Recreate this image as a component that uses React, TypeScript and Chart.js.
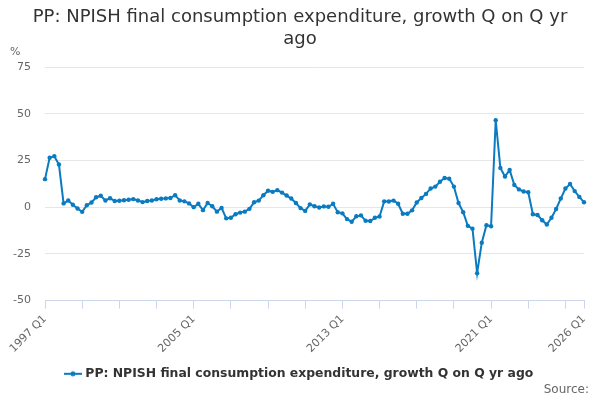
import React, { useEffect, useRef } from "react";
import { Chart, registerables } from "chart.js";

Chart.register(...registerables);

const TITLE_LINES = ["PP: NPISH final consumption expenditure, growth Q on Q yr", "ago"];
const SERIES_NAME = "PP: NPISH final consumption expenditure, growth Q on Q yr ago";
const START_YEAR = 1997;
const QUARTER_COUNT = 117;
const CATEGORIES: string[] = Array.from({ length: QUARTER_COUNT }, (_, i) => `${START_YEAR + Math.floor(i / 4)} Q${(i % 4) + 1}`);
const VALUES: number[] = [
  15, 26.4, 27.3, 22.8, 2, 3.6, 1.3, -0.7, -2.5, 1,
  2.5, 5.3, 6.1, 3.6, 4.8, 3.3, 3.4, 3.7, 4, 4.3,
  3.6, 2.7, 3.3, 3.6, 4.2, 4.5, 4.7, 4.9, 6.4, 3.6,
  3.1, 2, 0, 1.8, -1.6, 2.2, 0.5, -2.4, -0.4, -6,
  -5.7, -3.8, -2.9, -2.4, -0.9, 2.6, 3.5, 6.4, 8.8, 8.2,
  9.1, 7.8, 6.2, 4.6, 2.2, -0.5, -2, 1.5, 0.5, -0.2,
  0.4, 0.2, 1.8, -2.7, -3.3, -6.4, -7.8, -4.9, -4.4, -7.3,
  -7.4, -5.7, -5, 3.1, 3, 3.5, 1.8, -3.5, -3.5, -1.7,
  2.5, 4.9, 7.1, 10, 11, 13.6, 15.6, 15.2, 11, 2.2,
  -2.7, -10, -11.5, -35.3, -19, -9.7, -10.2, 46.5, 21, 16.4,
  19.9, 11.9, 9.5, 8.4, 8, -3.8, -4.2, -7, -9.3, -5.7,
  -1, 4.6, 10, 12.4, 8.6, 5.5, 2.6,
];
const LABELLED_TICKS: string[] = ["1997 Q1", "2005 Q1", "2013 Q1", "2021 Q1", "2026 Q1"];
const TICK_EVERY = 8;
const Y_MIN = -50;
const Y_MAX = 75;
const Y_STEP = 25;
const Y_UNIT = "%";
const SOURCE_TEXT = "Source:";

const LINE_COLOR = "#0b7bc1";
const FONT = "'DejaVu Sans', sans-serif";

export default function App() {
  const ref = useRef<HTMLCanvasElement | null>(null);

  useEffect(() => {
    if (!ref.current) return;

    const marker = document.createElement("canvas");
    marker.width = 18;
    marker.height = 8;
    const mctx = marker.getContext("2d")!;
    mctx.strokeStyle = LINE_COLOR;
    mctx.lineWidth = 2;
    mctx.beginPath();
    mctx.moveTo(0, 4);
    mctx.lineTo(18, 4);
    mctx.stroke();
    mctx.fillStyle = LINE_COLOR;
    mctx.beginPath();
    mctx.arc(9, 4, 2.5, 0, Math.PI * 2);
    mctx.fill();

    const textPlugin = {
      id: "texts",
      afterDraw(chart: any) {
        const ctx = chart.ctx;
        ctx.save();
        ctx.fillStyle = "#333333";
        ctx.font = `18px ${FONT}`;
        ctx.textAlign = "center";
        ctx.textBaseline = "middle";
        TITLE_LINES.forEach((t, i) => ctx.fillText(t, 300, 17 + i * 22));
        ctx.fillStyle = "#666666";
        ctx.font = `11px ${FONT}`;
        ctx.textAlign = "left";
        ctx.fillText(Y_UNIT, 10, 52);
        ctx.font = `12px ${FONT}`;
        ctx.textAlign = "right";
        ctx.fillText(SOURCE_TEXT, 589, 390);
        ctx.restore();
      },
    };

    const chart = new Chart(ref.current, {
      type: "line",
      data: {
        labels: CATEGORIES,
        datasets: [
          {
            label: SERIES_NAME,
            data: VALUES,
            borderColor: LINE_COLOR,
            backgroundColor: LINE_COLOR,
            borderWidth: 2,
            pointRadius: 2.2,
            pointBorderWidth: 0,
            pointBackgroundColor: LINE_COLOR,
            tension: 0,
          },
        ],
      },
      options: {
        responsive: false,
        animation: false,
        layout: { padding: { top: 67, left: 0, right: 0, bottom: 10 } },
        plugins: {
          title: { display: false },
          tooltip: { enabled: false },
          legend: {
            display: true,
            position: "bottom",
            labels: {
              usePointStyle: true,
              color: "#333333",
              font: { family: FONT, size: 12.4, weight: "bold" },
              padding: 10,
              generateLabels: (c: any) =>
                c.data.datasets.map((d: any, i: number) => ({
                  text: d.label,
                  fillStyle: LINE_COLOR,
                  strokeStyle: LINE_COLOR,
                  pointStyle: marker,
                  datasetIndex: i,
                  hidden: false,
                  fontColor: "#333333",
                })),
            },
          },
        },
        scales: {
          x: {
            type: "category",
            offset: false,
            afterBuildTicks: (scale: any) => {
              const ticks: any[] = [];
              for (let v = 0; v < CATEGORIES.length; v += TICK_EVERY) ticks.push({ value: v });
              if ((CATEGORIES.length - 1) % TICK_EVERY !== 0) ticks.push({ value: CATEGORIES.length - 1 });
              scale.ticks = ticks;
            },
            afterFit: (scale: any) => {
              scale.height = 57;
            },
            ticks: {
              autoSkip: false,
              minRotation: 45,
              maxRotation: 45,
              color: "#666666",
              font: { family: FONT, size: 11 },
              padding: 4,
              callback: function (this: any, value: any) {
                const lab = CATEGORIES[value as number];
                return LABELLED_TICKS.includes(lab) ? lab : "";
              },
            },
            grid: {
              display: true,
              drawOnChartArea: false,
              drawTicks: true,
              tickLength: 8,
              color: "#ccd6eb",
              lineWidth: 1,
            },
            border: { display: true, color: "#ccd6eb", width: 1 },
          },
          y: {
            min: Y_MIN,
            max: Y_MAX,
            afterFit: (scale: any) => {
              scale.width = 45;
            },
            ticks: {
              stepSize: Y_STEP,
              color: "#666666",
              font: { family: FONT, size: 11 },
              padding: 14,
            },
            grid: { color: "#e6e6e6", drawTicks: false, lineWidth: 1 },
            border: { display: false },
          },
          yRight: {
            position: "right",
            display: true,
            min: Y_MIN,
            max: Y_MAX,
            afterFit: (scale: any) => {
              scale.width = 16;
            },
            ticks: { display: false },
            grid: { display: false, drawTicks: false },
            border: { display: false },
          },
        },
      },
      plugins: [textPlugin],
    });

    return () => chart.destroy();
  }, []);

  return (
    <div style={{ position: "absolute", left: 0, top: 0, width: 600, height: 400, background: "#ffffff" }}>
      <canvas ref={ref} width={600} height={400} />
    </div>
  );
}
